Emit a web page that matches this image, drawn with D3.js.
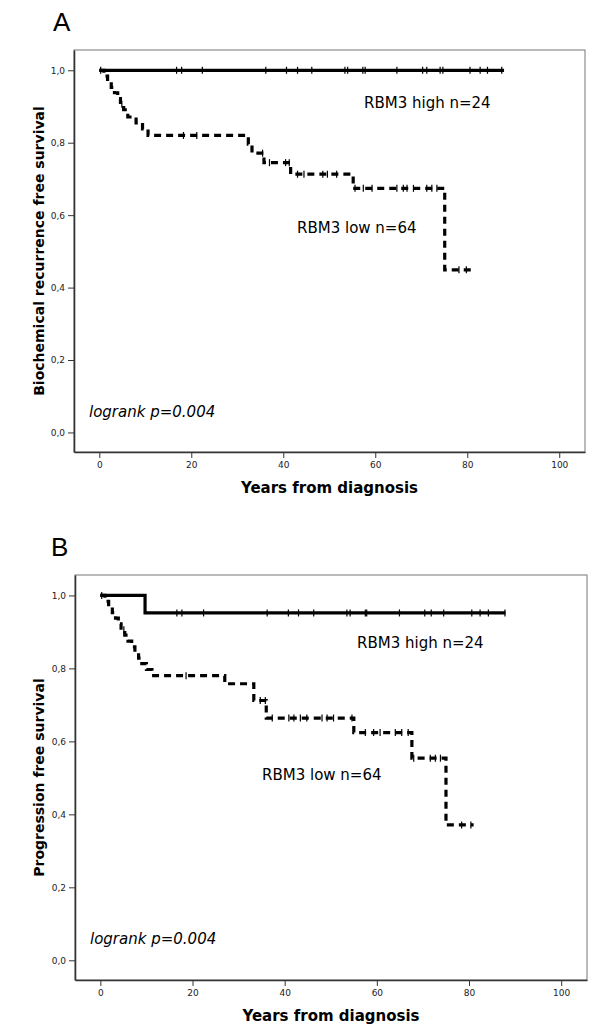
<!DOCTYPE html>
<html>
<head>
<meta charset="utf-8">
<script src="https://cdn.jsdelivr.net/npm/d3@7"></script>
<style>
  body { margin: 0; background: #fff; }
  svg text { font-family: "DejaVu Sans", sans-serif; }
</style>
</head>
<body>
<svg id="chart" width="600" height="1034"></svg>
<script>
// axis ticks shared by both panels
const xTicks = [0, 20, 40, 60, 80, 100];
const yTicks = [0, 0.2, 0.4, 0.6, 0.8, 1.0];

// Panel A - biochemical recurrence free survival
const aHighTimes = [0];
const aHighSurv = [1.0];
const aHighEnd = 88.0;
const aHighCensored = [0.3, 16.8, 17.9, 22.4, 36.2, 40.7, 43.1, 46.2, 53.4, 54.0, 57.3, 57.8, 64.7, 70.3, 71.2, 74.1, 74.7, 80.6, 82.8, 84.4, 87.5];
const aLowTimes = [0, 1.0, 1.8, 2.6, 3.3, 4.0, 4.6, 5.3, 6.2, 8.0, 9.4, 10.6, 32.4, 33.2, 35.8, 41.6, 55.2, 75.1];
const aLowSurv = [1.0, 0.984, 0.969, 0.953, 0.938, 0.922, 0.906, 0.891, 0.871, 0.855, 0.838, 0.820, 0.796, 0.771, 0.745, 0.713, 0.674, 0.449];
const aLowEnd = 81.0;
const aLowCensored = [4.9, 18.3, 21.2, 35.5, 37.0, 40.5, 41.3, 43.1, 44.5, 48.6, 49.6, 51.6, 55.6, 57.4, 59.3, 64.7, 66.1, 66.9, 68.3, 71.2, 72.3, 73.4, 78.2, 79.8];

// Panel B - progression free survival
const bHighTimes = [0, 9.7];
const bHighSurv = [1.0, 0.952];
const bHighEnd = 87.9;
const bHighCensored = [0.3, 16.6, 17.7, 22.4, 36.2, 40.8, 43.0, 46.3, 53.5, 54.2, 57.5, 57.8, 64.9, 70.4, 71.8, 74.5, 80.6, 82.4, 84.2, 87.8];
const bLowTimes = [0, 1.0, 1.8, 2.6, 3.3, 3.9, 4.5, 5.3, 6.0, 6.8, 7.5, 8.3, 9.0, 10.0, 11.2, 27.0, 33.3, 36.0, 55.0, 67.6, 75.0];
const bLowSurv = [1.0, 0.984, 0.969, 0.953, 0.938, 0.922, 0.906, 0.891, 0.875, 0.859, 0.844, 0.828, 0.813, 0.797, 0.780, 0.758, 0.712, 0.664, 0.624, 0.554, 0.371];
const bLowEnd = 81.0;
const bLowCensored = [5.1, 18.6, 34.7, 35.8, 37.3, 40.9, 42.0, 43.4, 44.8, 48.1, 49.2, 50.6, 54.6, 57.5, 59.3, 60.7, 64.0, 65.4, 66.8, 68.0, 71.6, 72.7, 73.8, 78.4, 80.4];

class KaplanMeierPlot {
  constructor(_config, _curves) {
    this.config = {
      parentElement: _config.parentElement,
      left: _config.left,
      top: _config.top,
      width: _config.width,
      height: _config.height,
      letter: _config.letter,
      letterPos: _config.letterPos,
      yLabel: _config.yLabel,
      xLabelY: _config.xLabelY,
      notes: _config.notes
    };
    this.curves = _curves;
    this.initVis();
  }

  initVis() {
    let vis = this;

    vis.xScale = d3.scaleLinear()
        .domain([-5.5, 105.6])
        .range([0, vis.config.width]);

    vis.yScale = d3.scaleLinear()
        .domain([-0.054, 1.056])
        .range([vis.config.height, 0]);

    vis.xAxis = d3.axisBottom(vis.xScale)
        .tickValues(xTicks)
        .tickSizeInner(6)
        .tickSizeOuter(0)
        .tickPadding(4)
        .tickFormat(d3.format('d'));

    vis.yAxis = d3.axisLeft(vis.yScale)
        .tickValues(yTicks)
        .tickSizeInner(6)
        .tickSizeOuter(0)
        .tickPadding(3)
        .tickFormat(d => d3.format('.1f')(d).replace('.', ','));

    vis.svg = d3.select(vis.config.parentElement);

    vis.chart = vis.svg.append('g')
        .attr('transform', `translate(${vis.config.left},${vis.config.top})`);

    // thin grey frame, axes drawn darker on top
    vis.chart.append('rect')
        .attr('width', vis.config.width)
        .attr('height', vis.config.height)
        .attr('fill', 'none')
        .attr('stroke', '#777')
        .attr('stroke-width', 1);

    vis.xAxisG = vis.chart.append('g')
        .attr('class', 'axis x-axis')
        .attr('transform', `translate(0,${vis.config.height})`);

    vis.yAxisG = vis.chart.append('g')
        .attr('class', 'axis y-axis');

    vis.line = d3.line()
        .x(d => vis.xScale(d[0]))
        .y(d => vis.yScale(d[1]))
        .curve(d3.curveStepAfter);

    // panel letter
    vis.svg.append('text')
        .attr('x', vis.config.letterPos[0])
        .attr('y', vis.config.letterPos[1])
        .style('font-family', '"Liberation Sans", Arial, sans-serif')
        .style('font-size', '26px')
        .text(vis.config.letter);

    // axis titles
    vis.svg.append('text')
        .attr('text-anchor', 'middle')
        .attr('transform', `translate(44,${vis.config.top + vis.config.height / 2}) rotate(-90)`)
        .style('font-size', '14px')
        .style('font-weight', 'bold')
        .text(vis.config.yLabel);

    vis.svg.append('text')
        .attr('text-anchor', 'middle')
        .attr('x', vis.config.left + vis.config.width / 2)
        .attr('y', vis.config.xLabelY)
        .style('font-size', '15px')
        .style('font-weight', 'bold')
        .text('Years from diagnosis');

    // in-plot notes
    vis.chart.selectAll('.note')
        .data(vis.config.notes)
      .join('text')
        .attr('class', 'note')
        .attr('x', d => d.x)
        .attr('y', d => d.y)
        .style('font-size', '15px')
        .style('font-style', d => d.italic ? 'italic' : 'normal')
        .text(d => d.text);
  }

  survivalAt(curve, t) {
    let s = curve.surv[0];
    curve.times.forEach((ti, i) => { if (ti <= t) s = curve.surv[i]; });
    return s;
  }

  renderVis() {
    let vis = this;

    vis.xAxisG.call(vis.xAxis);
    vis.yAxisG.call(vis.yAxis);

    vis.chart.selectAll('.axis .domain')
        .attr('stroke', '#333')
        .attr('stroke-width', 1.6);
    vis.chart.selectAll('.axis .tick line')
        .attr('stroke', '#333')
        .attr('stroke-width', 1);
    vis.chart.selectAll('.axis .tick text')
        .attr('fill', '#222')
        .style('font-family', '"DejaVu Sans", sans-serif')
        .style('font-size', '9px');

    vis.curves.forEach(curve => {
      let pts = curve.times.map((t, i) => [t, curve.surv[i]]);
      pts.push([curve.end, curve.surv[curve.surv.length - 1]]);

      vis.chart.append('path')
          .datum(pts)
          .attr('d', vis.line)
          .attr('fill', 'none')
          .attr('stroke', '#000')
          .attr('stroke-width', 3.2)
          .attr('stroke-dasharray', curve.dashed ? '7,5' : null);

      // censoring ticks
      vis.chart.append('g').selectAll('line')
          .data(curve.censored)
        .join('line')
          .attr('x1', d => vis.xScale(d))
          .attr('x2', d => vis.xScale(d))
          .attr('y1', d => vis.yScale(vis.survivalAt(curve, d)) - 3.5)
          .attr('y2', d => vis.yScale(vis.survivalAt(curve, d)) + 3.5)
          .attr('stroke', '#000')
          .attr('stroke-width', 1.2);
    });
  }
}

const panelA = new KaplanMeierPlot({
  parentElement: '#chart',
  left: 74, top: 50, width: 511, height: 402,
  letter: 'A', letterPos: [53, 31],
  yLabel: 'Biochemical recurrence free survival',
  xLabelY: 493,
  notes: [
    {text: 'RBM3 high n=24', x: 290, y: 58},
    {text: 'RBM3 low n=64', x: 223, y: 183},
    {text: 'logrank p=0.004', x: 15, y: 367, italic: true}
  ]
}, [
  {times: aHighTimes, surv: aHighSurv, end: aHighEnd, censored: aHighCensored, dashed: false},
  {times: aLowTimes, surv: aLowSurv, end: aLowEnd, censored: aLowCensored, dashed: true}
]);
panelA.renderVis();

const panelB = new KaplanMeierPlot({
  parentElement: '#chart',
  left: 75, top: 575, width: 512, height: 405,
  letter: 'B', letterPos: [51, 556],
  yLabel: 'Progression free survival',
  xLabelY: 1021,
  notes: [
    {text: 'RBM3 high n=24', x: 282, y: 73},
    {text: 'RBM3 low n=64', x: 187, y: 205},
    {text: 'logrank p=0.004', x: 15, y: 369, italic: true}
  ]
}, [
  {times: bHighTimes, surv: bHighSurv, end: bHighEnd, censored: bHighCensored, dashed: false},
  {times: bLowTimes, surv: bLowSurv, end: bLowEnd, censored: bLowCensored, dashed: true}
]);
panelB.renderVis();
</script>
</body>
</html>
